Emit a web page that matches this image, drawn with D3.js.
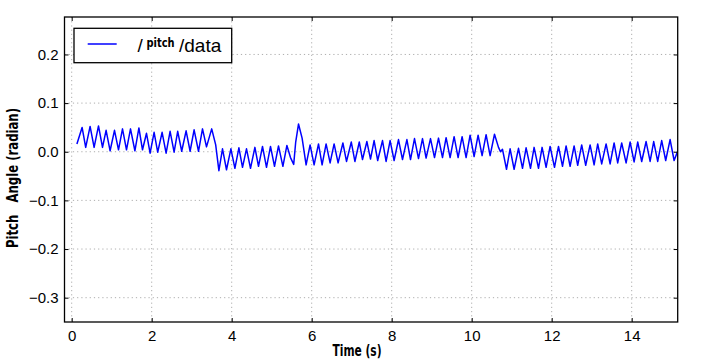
<!DOCTYPE html>
<html>
<head>
<meta charset="utf-8">
<style>
  body { margin: 0; background: #fff; }
  svg { display: block; }
</style>
</head>
<body>
<svg width="705" height="359"></svg>
<script src="https://d3js.org/d3.v7.min.js"></script>
<script>

    // time (s) and pitch angle (rad)
    var time = [
        0.13, 0.26, 0.35, 0.46, 0.56, 0.67, 0.77, 0.86, 0.96, 1.07,
        1.17, 1.27, 1.37, 1.47, 1.58, 1.68, 1.77, 1.87, 1.96, 2.06,
        2.15, 2.26, 2.36, 2.46, 2.56, 2.65, 2.75, 2.86, 2.96, 3.06,
        3.17, 3.27, 3.37, 3.50, 3.60, 3.68, 3.77, 3.87, 3.98, 4.08,
        4.18, 4.27, 4.37, 4.47, 4.58, 4.67, 4.77, 4.87, 4.97, 5.07,
        5.17, 5.28, 5.38, 5.47, 5.55, 5.60, 5.67, 5.76, 5.86, 5.96,
        6.06, 6.17, 6.26, 6.36, 6.46, 6.56, 6.66, 6.78, 6.87, 6.99,
        7.08, 7.19, 7.27, 7.38, 7.47, 7.56, 7.65, 7.77, 7.86, 7.96,
        8.06, 8.17, 8.27, 8.38, 8.47, 8.57, 8.67, 8.77, 8.86, 8.97,
        9.07, 9.17, 9.27, 9.36, 9.46, 9.56, 9.66, 9.76, 9.86, 9.96,
        10.06, 10.16, 10.26, 10.36, 10.46, 10.57, 10.67, 10.72, 10.77, 10.87,
        10.96, 11.06, 11.17, 11.27, 11.36, 11.47, 11.56, 11.67, 11.76, 11.86,
        11.96, 12.07, 12.17, 12.27, 12.36, 12.46, 12.56, 12.65, 12.75, 12.85,
        12.96, 13.06, 13.15, 13.25, 13.36, 13.46, 13.56, 13.65, 13.75, 13.86,
        13.96, 14.06, 14.15, 14.25, 14.36, 14.46, 14.55, 14.65, 14.75, 14.85,
        14.96, 15.06, 15.20
    ];
    var pitch = [
        0.016, 0.050, 0.009, 0.052, 0.009, 0.053, 0.009, 0.044, 0.002, 0.044,
        0.004, 0.047, 0.004, 0.047, 0.002, 0.049, 0.004, 0.038, -0.003, 0.040,
        -0.001, 0.040, -0.003, 0.042, -0.001, 0.042, 0.001, 0.043, 0.001, 0.045,
        0.001, 0.047, 0.010, 0.047, 0.014, -0.039, 0.006, -0.037, 0.006, -0.034,
        0.008, -0.032, 0.006, -0.034, 0.009, -0.030, 0.011, -0.032, 0.011, -0.030,
        0.012, -0.030, 0.013, -0.012, -0.026, 0.020, 0.057, 0.028, -0.027, 0.014,
        -0.027, 0.016, -0.027, 0.016, -0.023, 0.016, -0.023, 0.018, -0.020, 0.020,
        -0.020, 0.020, -0.016, 0.021, -0.015, 0.023, -0.018, 0.023, -0.020, 0.023,
        -0.018, 0.025, -0.016, 0.025, -0.016, 0.027, -0.014, 0.027, -0.013, 0.027,
        -0.012, 0.028, -0.012, 0.029, -0.012, 0.031, -0.012, 0.031, -0.012, 0.034,
        -0.010, 0.034, -0.008, 0.035, -0.008, 0.036, 0.009, 0.000, 0.005, -0.036,
        0.006, -0.036, 0.007, -0.034, 0.008, -0.034, 0.009, -0.034, 0.009, -0.032,
        0.011, -0.032, 0.011, -0.030, 0.012, -0.030, 0.012, -0.028, 0.014, -0.028,
        0.014, -0.027, 0.016, -0.025, 0.016, -0.025, 0.018, -0.023, 0.018, -0.023,
        0.020, -0.021, 0.020, -0.020, 0.021, -0.020, 0.021, -0.020, 0.023, -0.018,
        0.025, -0.018, 0.012
    ];
    var xTicks = [0, 2, 4, 6, 8, 10, 12, 14];
    var yTicks = [-0.3, -0.2, -0.1, 0.0, 0.1, 0.2];
    var seriesName = ["/", "pitch", "/data"];

    var data = time.map(function(t, i) { return {t: t, v: pitch[i]}; });

    var svg = d3.select("svg"),
        margin = {top: 17, right: 27.3, bottom: 37, left: 64.5},
        width = +svg.attr("width") - margin.left - margin.right,
        height = +svg.attr("height") - margin.top - margin.bottom,
        g = svg.append("g").attr("transform", "translate(" + margin.left + "," + margin.top + ")");

    var x = d3.scaleLinear().domain([-0.18, 15.15]).range([0, width]);
    var y = d3.scaleLinear().domain([-0.35, 0.277]).range([height, 0]);

    var fmt = function(d) { return d3.format(".1f")(d).replace("-", "\u2212"); };

    // dotted grid
    g.append("g").selectAll("line").data(xTicks).enter().append("line")
        .attr("x1", d => x(d)).attr("x2", d => x(d))
        .attr("y1", 0).attr("y2", height)
        .attr("stroke", "#999").attr("stroke-width", 0.8)
        .attr("stroke-dasharray", "1.2,3");
    g.append("g").selectAll("line").data(yTicks).enter().append("line")
        .attr("y1", d => y(d)).attr("y2", d => y(d))
        .attr("x1", 0).attr("x2", width)
        .attr("stroke", "#999").attr("stroke-width", 0.8)
        .attr("stroke-dasharray", "1.2,3");

    // line
    g.append("clipPath").attr("id", "clip")
        .append("rect").attr("width", width).attr("height", height);

    var line = d3.line()
        .x(function(d) { return x(d.t); })
        .y(function(d) { return y(d.v); });

    g.append("path")
        .datum(data)
        .attr("clip-path", "url(#clip)")
        .attr("fill", "none")
        .attr("stroke", "#0000ff")
        .attr("stroke-width", 1.5)
        .attr("stroke-linejoin", "round")
        .attr("d", line);

    // axes, ticks inward
    var axisFont = "'Liberation Sans', Arial, sans-serif";

    g.append("g")
        .attr("transform", "translate(0," + height + ")")
        .call(d3.axisBottom(x).tickValues(xTicks).tickSizeInner(-4).tickSizeOuter(0).tickPadding(8));
    g.append("g")
        .call(d3.axisLeft(y).tickValues(yTicks).tickFormat(fmt).tickSizeInner(-4).tickSizeOuter(0).tickPadding(6));
    g.append("g")
        .call(d3.axisTop(x).tickValues(xTicks).tickSizeInner(-4).tickSizeOuter(0).tickFormat(""));
    g.append("g")
        .attr("transform", "translate(" + width + ",0)")
        .call(d3.axisRight(y).tickValues(yTicks).tickSizeInner(-4).tickSizeOuter(0).tickFormat(""));

    g.selectAll(".domain").remove();
    g.selectAll(".tick line").attr("stroke", "#000").attr("stroke-width", 1);
    g.selectAll(".tick text")
        .attr("fill", "#000")
        .style("font-family", axisFont)
        .style("font-size", "15px");

    g.append("rect")
        .attr("width", width).attr("height", height)
        .attr("fill", "none").attr("stroke", "#000").attr("stroke-width", 1.3);

    // axis labels (bold, condensed)
    var labelFont = "'Liberation Sans Narrow', 'DejaVu Sans Condensed', 'Liberation Sans', sans-serif";

    svg.append("text")
        .attr("x", 357).attr("y", 355.5)
        .attr("text-anchor", "middle")
        .attr("textLength", 49).attr("lengthAdjust", "spacingAndGlyphs")
        .style("font-family", labelFont).style("font-weight", "bold").style("font-size", "16px")
        .text("Time (s)");

    svg.append("text")
        .attr("transform", "translate(18,178) rotate(-90)")
        .attr("text-anchor", "middle")
        .attr("textLength", 140).attr("lengthAdjust", "spacingAndGlyphs")
        .style("font-family", labelFont).style("font-weight", "bold").style("font-size", "16px")
        .style("white-space", "pre")
        .text("Pitch   Angle (radian)");

    // legend
    var legend = svg.append("g");
    legend.append("rect")
        .attr("x", 74).attr("y", 28.3).attr("width", 157.7).attr("height", 34.4)
        .attr("fill", "#fff").attr("stroke", "#000").attr("stroke-width", 1.3);
    legend.append("line")
        .attr("x1", 87.7).attr("x2", 116.7).attr("y1", 44).attr("y2", 44)
        .attr("stroke", "#0000ff").attr("stroke-width", 1.5);
    legend.append("text")
        .attr("x", 137.5).attr("y", 52)
        .style("font-family", axisFont).style("font-size", "19px")
        .text(seriesName[0]);
    legend.append("text")
        .attr("x", 146.5).attr("y", 46.5)
        .attr("textLength", 28).attr("lengthAdjust", "spacingAndGlyphs")
        .style("font-family", labelFont).style("font-weight", "bold").style("font-size", "13px")
        .text(seriesName[1]);
    legend.append("text")
        .attr("x", 179).attr("y", 52)
        .style("font-family", axisFont).style("font-size", "19px")
        .text(seriesName[2]);

</script>
</body>
</html>
